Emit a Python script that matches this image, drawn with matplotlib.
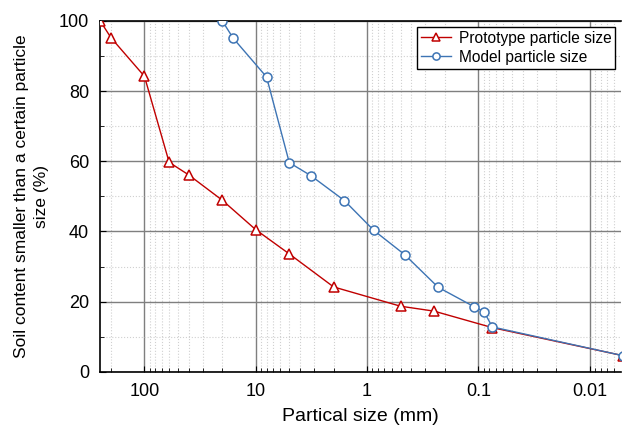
import matplotlib
matplotlib.use("Agg")
import matplotlib.pyplot as plt
from matplotlib.ticker import LogLocator, FixedLocator, MultipleLocator, FuncFormatter

plt.rcParams['font.family'] = ['Liberation Sans', 'DejaVu Sans']

# prototype gradation (mm, % passing)
proto_size = [250, 200, 100, 60, 40, 20, 10, 5, 2, 0.5, 0.25, 0.075, 0.005]
proto_pass = [100, 95.2, 84.2, 59.7, 56.1, 48.9, 40.5, 33.6, 24.2, 18.7, 17.3, 12.6, 4.6]

# model gradation
model_size = [20, 16, 8, 5, 3.2, 1.6, 0.87, 0.46, 0.23, 0.11, 0.089, 0.075, 0.005]
model_pass = [100, 95.1, 84.0, 59.6, 55.9, 48.8, 40.3, 33.4, 24.1, 18.6, 17.1, 12.8, 4.6]

xticks = [100, 10, 1, 0.1, 0.01]
xtick_labels = ['100', '10', '1', '0.1', '0.01']

red = '#c00000'
blue = '#3d74b4'

fig = plt.figure(figsize=(6.22, 4.25), dpi=100)
ax = fig.add_axes([0.161, 0.125, 0.838, 0.826])

ax.plot(proto_size, proto_pass, color=red, lw=1.0, marker='^', ms=7.5,
        mfc='white', mec=red, mew=1.1, label='Prototype particle size', zorder=3)
ax.plot(model_size, model_pass, color=blue, lw=1.0, marker='o', ms=6.5,
        mfc='white', mec=blue, mew=1.1, label='Model particle size', zorder=4)

ax.set_xscale('log')
ax.set_xlim(250, 0.0052)
ax.set_ylim(0, 100)

ax.xaxis.set_major_locator(FixedLocator(xticks))
ax.xaxis.set_major_formatter(FuncFormatter(lambda v, p: xtick_labels[xticks.index(v)] if v in xticks else ''))
ax.xaxis.set_minor_locator(LogLocator(base=10, subs=range(2, 10), numticks=20))
ax.yaxis.set_major_locator(MultipleLocator(20))
ax.yaxis.set_minor_locator(MultipleLocator(10))

ax.grid(which='major', color='#7f7f7f', lw=1.0, ls='-')
ax.grid(which='minor', color='#d0d0d0', lw=0.8, ls=':')
ax.tick_params(which='both', direction='in', labelsize=13, top=False, right=False)
ax.tick_params(which='major', length=4, pad=8)
ax.tick_params(which='minor', length=3)
ax.spines['right'].set_visible(False)
for s in ['left', 'bottom', 'top']:
    ax.spines[s].set_linewidth(1.2)

ax.set_xlabel('Partical size (mm)', fontsize=14, labelpad=6)
ax.set_ylabel('Soil content smaller than a certain particle\nsize (%)', fontsize=12.5,
              linespacing=1.45, labelpad=7)

leg = ax.legend(loc='upper right', fontsize=11.2, fancybox=False, framealpha=1,
                edgecolor='black', borderpad=0.25, handlelength=1.9, markerscale=0.8,
                handletextpad=0.5, labelspacing=0.25, borderaxespad=0.4)
leg.get_frame().set_linewidth(1.0)

fig.savefig('out.png', dpi=100)
